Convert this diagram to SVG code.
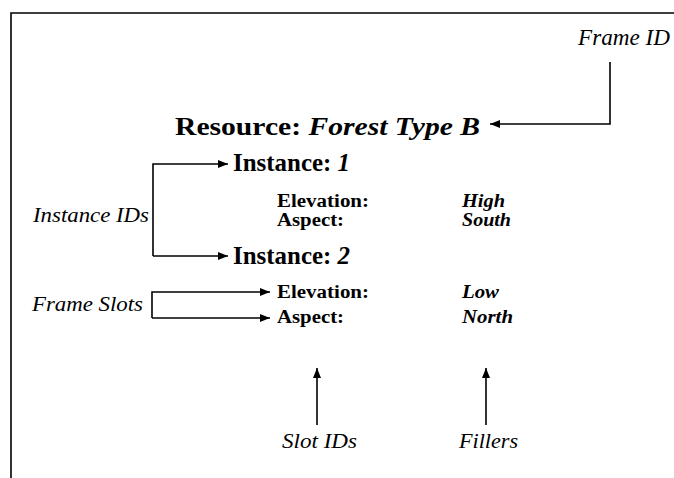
<svg xmlns="http://www.w3.org/2000/svg" width="674" height="478" viewBox="0 0 674 478">
<defs>
<marker id="ah" markerWidth="10" markerHeight="8" refX="10" refY="4" orient="auto" markerUnits="userSpaceOnUse">
<path d="M0,0 L10,4 L0,8 Z" fill="#000"/>
</marker>
<style>
.t{font-family:"Liberation Serif","Times New Roman",serif;fill:#000}
.b{font-weight:bold}
.i{font-style:italic}
.ln{fill:none;stroke:#000;stroke-width:1.6}
</style>
</defs>
<rect width="674" height="478" fill="#fff"/>
<!-- frame border: top edge and left edge -->
<path class="ln" d="M11,478 V13 H674" stroke-width="2"/>

<g id="frame-id"><text class="t i" x="578" y="45" font-size="24" textLength="92" lengthAdjust="spacingAndGlyphs">Frame ID</text></g>
<g id="resource"><text class="t b" x="175" y="135" font-size="26" textLength="305" lengthAdjust="spacingAndGlyphs">Resource: <tspan class="i">Forest Type B</tspan></text></g>
<g id="instance1">
<text class="t b" x="233" y="171" font-size="25" textLength="117" lengthAdjust="spacingAndGlyphs">Instance: <tspan class="i">1</tspan></text>
<text class="t b" x="277" y="207" font-size="18" textLength="92" lengthAdjust="spacingAndGlyphs">Elevation:</text>
<text class="t b" x="277" y="226" font-size="18" textLength="67" lengthAdjust="spacingAndGlyphs">Aspect:</text>
<text class="t b i" x="462" y="207" font-size="18" textLength="43" lengthAdjust="spacingAndGlyphs">High</text>
<text class="t b i" x="462" y="226" font-size="18" textLength="49" lengthAdjust="spacingAndGlyphs">South</text>
</g>
<g id="instance2">
<text class="t b" x="233" y="264" font-size="25" textLength="117" lengthAdjust="spacingAndGlyphs">Instance: <tspan class="i">2</tspan></text>
<text class="t b" x="277" y="298" font-size="18" textLength="92" lengthAdjust="spacingAndGlyphs">Elevation:</text>
<text class="t b" x="277" y="323" font-size="18" textLength="67" lengthAdjust="spacingAndGlyphs">Aspect:</text>
<text class="t b i" x="462" y="298" font-size="18" textLength="37" lengthAdjust="spacingAndGlyphs">Low</text>
<text class="t b i" x="462" y="323" font-size="18" textLength="51" lengthAdjust="spacingAndGlyphs">North</text>
</g>
<g id="instance-ids"><text class="t i" x="33" y="222" font-size="21" textLength="116" lengthAdjust="spacingAndGlyphs">Instance IDs</text></g>
<g id="frame-slots"><text class="t i" x="32" y="311" font-size="21" textLength="111" lengthAdjust="spacingAndGlyphs">Frame Slots</text></g>
<g id="slot-ids"><text class="t i" x="282" y="448" font-size="22" textLength="75" lengthAdjust="spacingAndGlyphs">Slot IDs</text></g>
<g id="fillers"><text class="t i" x="459" y="448" font-size="22" textLength="59" lengthAdjust="spacingAndGlyphs">Fillers</text></g>

<g id="connectors">
<path class="ln" d="M610,62 V124 H490" marker-end="url(#ah)"/>
<path class="ln" d="M153,256 V164 H228" marker-end="url(#ah)"/>
<path class="ln" d="M153,256 H228" marker-end="url(#ah)"/>
<path class="ln" d="M152,318 V292 H270" marker-end="url(#ah)"/>
<path class="ln" d="M152,318 H270" marker-end="url(#ah)"/>
<path class="ln" d="M317,425 V368" marker-end="url(#ah)"/>
<path class="ln" d="M486,425 V368" marker-end="url(#ah)"/>
</g>
</svg>
